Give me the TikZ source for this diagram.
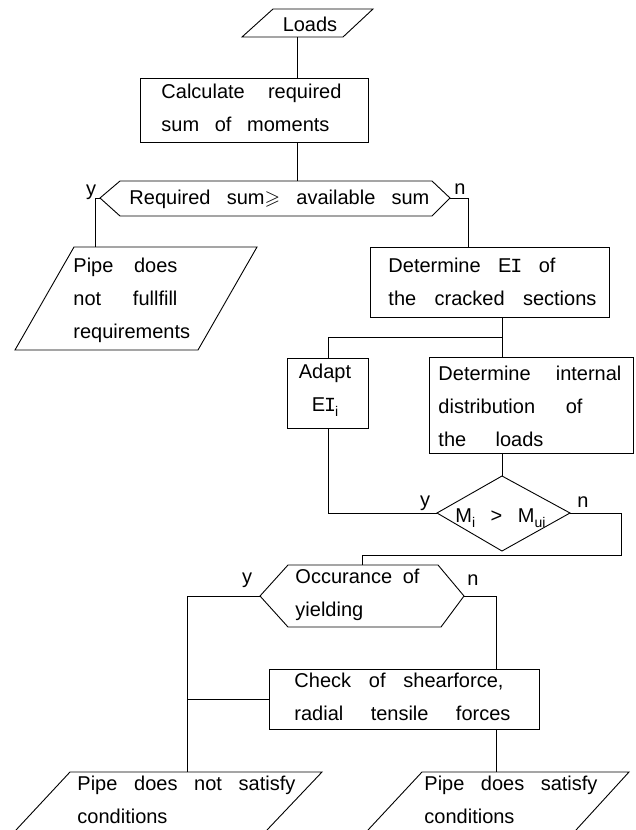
\documentclass[tikz,border=0pt]{standalone}
\usepackage{amssymb}
\usepackage{fontspec}
\setmainfont{Liberation Sans}
\newfontfamily\serifI{Liberation Mono}
\newcommand{\sst}{\rule[-5pt]{0pt}{20pt}}
\newcommand{\jl}[2]{\makebox[#1pt][s]{\sst#2}}
\newcommand{\lowidx}[1]{\raisebox{-5pt}{\fontsize{14}{14}\selectfont #1}}
\newcommand{\EIx}{E{\serifI\kern-1pt I\kern-1pt}}
\begin{document}
\begin{tikzpicture}[x=1pt,y=-1pt,line width=0.9pt,
  txt/.style={anchor=west,align=left,inner sep=0pt,font=\fontsize{20}{33}\selectfont},
  ctxt/.style={align=center,inner sep=0pt,font=\fontsize{20}{33}\selectfont},
  lab/.style={inner sep=0pt,font=\fontsize{20}{24}\selectfont},
  box/.style={draw,rectangle,anchor=north west,inner sep=0pt}]
\useasboundingbox (0,0) rectangle (635,830);
\fill[white] (0,0) rectangle (635,830);

% Loads
\draw (273,9) -- (373,9) -- (343,37) -- (242,37) -- cycle;
\node[lab] (loads) at (310,24) {Loads};
\coordinate (loadsB) at (297,37);

% Calculate
\node[box,minimum width=228,minimum height=64] (calc) at (140,78) {};
\node[txt] (calct) at (161,110) {\jl{180}{Calculate required}\\\jl{168}{sum of moments}};
\draw (loadsB) -- (loadsB |- calc.north);
\coordinate (h1T) at (297,181);
\draw (loadsB |- calc.south) -- (h1T);

% first decision
\coordinate (h1L) at (100,198);
\coordinate (h1R) at (450,198);
\draw (h1L) -- (120,181) -- (432,181) -- (h1R) -- (432,216) -- (120,216) -- cycle;
\node[txt] (h1t) at (129,199) {\jl{300}{Required sum$\geqslant$ available sum}};
\node[lab] (y1) at (91,192) {y};
\node[lab] (n1) at (460,189) {n};
\coordinate (p1T) at (95,247);
\coordinate (eiT) at (468,247);
\draw (h1L) -| (p1T);
\draw (h1R) -| (eiT);

% Pipe does not fullfill
\draw (74,247) -- (257,247) -- (198,350) -- (15,350) -- cycle;
\node[txt] (p1t) at (73,300) {\jl{104}{Pipe does}\\\jl{104}{not fullfill}\\\sst requirements};

% Determine EI
\node[box,minimum width=239,minimum height=70] (ei) at (370,247) {};
\node[txt] (eit) at (388,284) {\jl{167}{Determine \EIx{} of}\\\jl{208}{the cracked sections}};
\coordinate (split) at (502,337);
\draw (ei.south -| split) -- (split);

% Adapt and internal distribution
\node[box,minimum width=81,minimum height=70] (adapt) at (287,358) {};
\node[ctxt] (adaptt) at (325,390) {\sst Adapt\\\sst \EIx\lowidx{i}};
\node[box,minimum width=204,minimum height=96] (det) at (429,357) {};
\node[txt] (dett) at (438,408) {\jl{183}{Determine internal}\\\jl{144}{distribution of}\\\jl{105}{the loads}};
\draw (split) -| (adapt.north);
\draw (split) -- (split |- det.north);

% diamond
\coordinate (dT) at (502,476);
\coordinate (dL) at (437,513);
\coordinate (dR) at (570,513);
\coordinate (dB) at (502,551);
\draw (dT) -- (dR) -- (dB) -- (dL) -- cycle;
\node[inner sep=0pt,anchor=base west,font=\fontsize{20}{24}\selectfont] (dt) at (455,522) {\jl{90}{M\lowidx{i} > M\lowidx{ui}}};
\draw (det.south -| dT) -- (dT);
\draw (dL) -| (adapt.south);
\node[lab] (y2) at (425,503) {y};
\node[lab] (n2) at (583,502) {n};
\coordinate (turn) at (621,555);
\coordinate (h2T) at (362,565);
\draw (dR) -| (turn) -| (h2T);

% yielding decision
\coordinate (h2L) at (260,596);
\coordinate (h2R) at (464,596);
\draw (h2L) -- (288,565) -- (438,565) -- (h2R) -- (441,627) -- (288,627) -- cycle;
\node[txt] (h2t) at (295,595) {\jl{124}{Occurance of}\\\sst yielding};
\node[lab] (y3) at (247,580) {y};
\node[lab] (n3) at (473,580) {n};
\coordinate (p3T) at (187,772);
\coordinate (p4T) at (496,772);
\draw (h2L) -| (p3T);

% check box
\node[box,minimum width=270,minimum height=60] (chk) at (269,669) {};
\node[txt] (chkt) at (294,699) {\jl{209}{Check of shearforce,}\\\jl{216}{radial tensile forces}};
\draw (h2R) -| (chk.north -| p4T);
\draw (chk.south -| p4T) -- (p4T);
\draw (chk.west) -- (chk.west -| p3T);

% outputs
\draw (16,830) -- (70,772) -- (322,772) -- (267,830);
\draw (368,830) -- (422,772) -- (629,772) -- (576,830);
\node[txt] (p3t) at (77,802) {\jl{218}{Pipe does not satisfy}\\\sst conditions};
\node[txt] (p4t) at (424,802) {\jl{173}{Pipe does satisfy}\\\sst conditions};
\end{tikzpicture}
\end{document}
